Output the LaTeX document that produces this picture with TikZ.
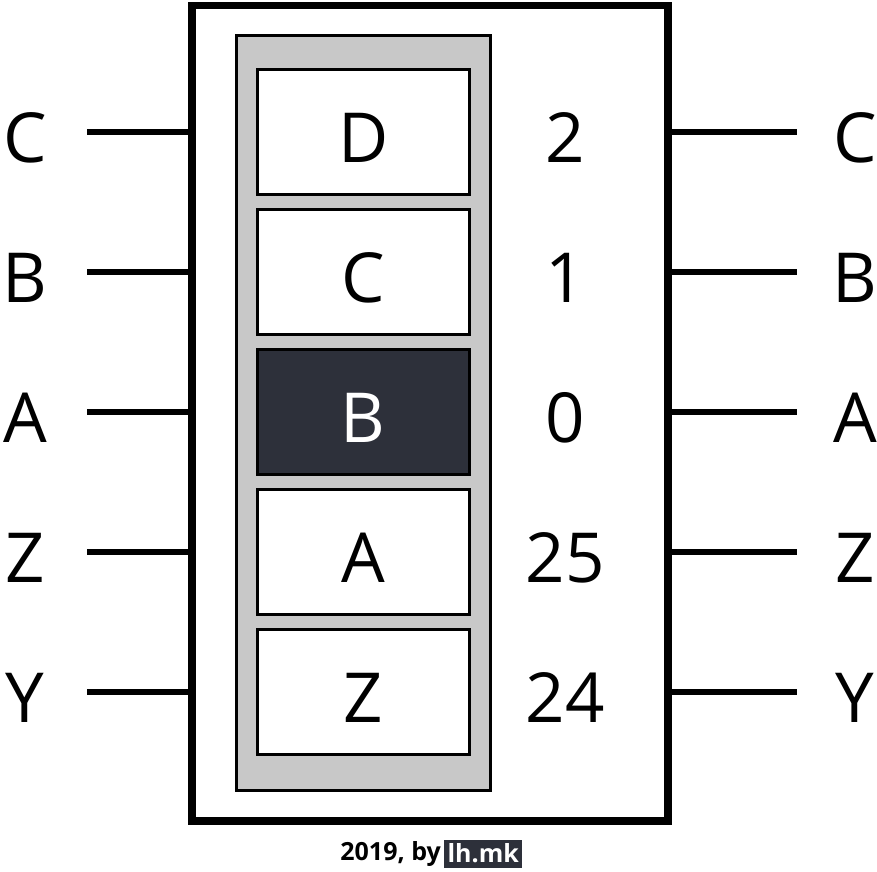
\documentclass[tikz,border=0pt]{standalone}
\usepackage{fontspec}
\setmainfont{Open Sans}
\usepackage{tikz}
\usetikzlibrary{positioning,calc}
\definecolor{slotdark}{RGB}{45,48,58}
\definecolor{slotgray}{RGB}{200,200,200}
\tikzset{
  big/.style={font=\fontsize{69}{69}\selectfont, text height=60pt, text depth=0pt, inner sep=0pt},
  chip/.style={draw, line width=7.5pt, fill=white},
  tray/.style={draw, line width=3pt, fill=slotgray, minimum width=254pt, minimum height=754.5pt},
  cell/.style={big, draw, line width=3pt, fill=white, minimum width=211.5pt, minimum height=125pt},
  active/.style={cell, fill=slotdark, text=white},
  pin/.style={line width=6pt},
  foot/.style={font=\bfseries\fontsize{25}{25}\selectfont, inner sep=0pt},
}

\begin{document}
\begin{tikzpicture}[x=1pt, y=-1pt, node distance=12pt]
  \useasboundingbox (0,0) rectangle (877,871);

  % Body
  \node[chip, minimum width=476pt, minimum height=815.5pt] (chip) at (430,413.25) {};
  \node[tray] (tray) at (363,412.75) {};

  % Slots
  \node[cell] (D) at (363.25,132) {D};
  \node[cell, below=of D] (C) {C};
  \node[active, below=of C] (B) {B};
  \node[cell, below=of B] (A) {A};
  \node[cell, below=of A] (Z) {Z};

  % Numbers
  \node[big] (n2) at (565,132) {2};
  \node[big] (n1) at (565,272) {1};
  \node[big] (n0) at (565,412) {0};
  \node[big] (n25) at (565,552) {25};
  \node[big] (n24) at (565,692) {24};

  % Pin labels
  \node[big] (lC) at (25,132) {C};
  \node[big] (lB) at (25,272) {B};
  \node[big] (lA) at (25,412) {A};
  \node[big] (lZ) at (25,552) {Z};
  \node[big] (lY) at (25,692) {Y};
  \node[big] (rC) at (855,132) {C};
  \node[big] (rB) at (855,272) {B};
  \node[big] (rA) at (855,412) {A};
  \node[big] (rZ) at (855,552) {Z};
  \node[big] (rY) at (855,692) {Y};

  % Pins
  \coordinate (pl1) at (87,132);
  \coordinate (pl2) at (87,272);
  \coordinate (pl3) at (87,412);
  \coordinate (pl4) at (87,552);
  \coordinate (pl5) at (87,692);
  \coordinate (pr1) at (797,132);
  \coordinate (pr2) at (797,272);
  \coordinate (pr3) at (797,412);
  \coordinate (pr4) at (797,552);
  \coordinate (pr5) at (797,692);
  \draw[pin] (pl1) -- (pl1 -| chip.west);
  \draw[pin] (pl2) -- (pl2 -| chip.west);
  \draw[pin] (pl3) -- (pl3 -| chip.west);
  \draw[pin] (pl4) -- (pl4 -| chip.west);
  \draw[pin] (pl5) -- (pl5 -| chip.west);
  \draw[pin] (pr1 -| chip.east) -- (pr1);
  \draw[pin] (pr2 -| chip.east) -- (pr2);
  \draw[pin] (pr3 -| chip.east) -- (pr3);
  \draw[pin] (pr4 -| chip.east) -- (pr4);
  \draw[pin] (pr5 -| chip.east) -- (pr5);

  % Footer
  \node[foot, anchor=base east] (year) at (441,860) {2019, by};
  \node[foot, fill=slotdark, text=white, minimum width=78pt, minimum height=28pt, right=3pt of year] (site) {lh.mk};
\end{tikzpicture}
\end{document}
